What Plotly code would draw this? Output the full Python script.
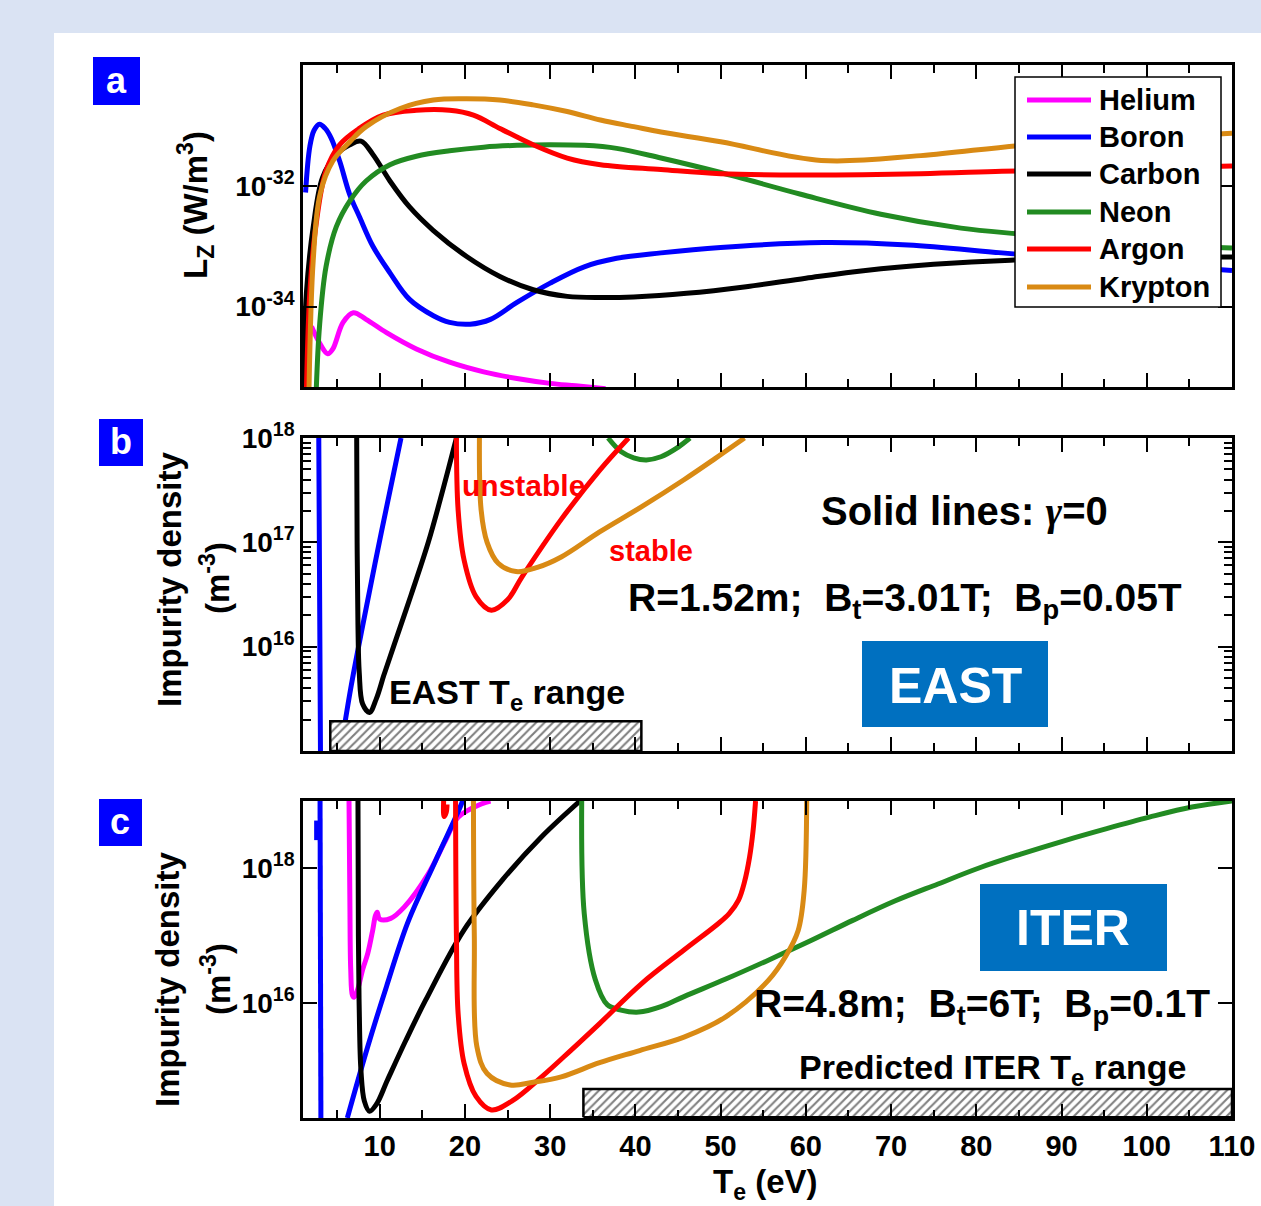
import plotly.graph_objects as go

W, H = 1261, 1206

# ---------------- data (T_e in eV, values as log10) ----------------
# Panel a: L_Z (W m^3), log10
helium_a_T = [2.0, 2.9, 3.9, 4.5, 5.7, 6.9, 8.4, 10.8, 14.3, 18.2, 22.2, 26.1, 30.0, 33.0, 36.5]
helium_a_lg = [-34.33, -34.59, -34.78, -34.7, -34.26, -34.1, -34.21, -34.43, -34.7, -34.92, -35.08, -35.19, -35.27, -35.31, -35.36]

boron_a_T = [1.3, 1.8, 2.3, 2.94, 3.6, 4.3, 5.3, 6.47, 7.65, 9.2, 11.2, 13.5, 16.3, 18.2, 20.6, 23.0, 26.1, 30.0, 34.0, 37.8, 43.0, 50, 62, 72, 83, 95, 110]
boron_a_lg = [-32.11, -31.35, -31.08, -30.98, -31.05, -31.21, -31.59, -32.14, -32.52, -33.0, -33.44, -33.88, -34.15, -34.26, -34.29, -34.21, -33.93, -33.61, -33.34, -33.2, -33.11, -33.02, -32.94, -32.98, -33.11, -33.25, -33.4]

carbon_a_T = [1.0, 1.4, 2.2, 3.3, 4.9, 6.5, 7.8, 9.2, 11.2, 13.5, 16.3, 20.2, 24.1, 28.0, 32.0, 35.9, 39.8, 46, 53, 60, 67, 75, 84, 96, 110]
carbon_a_lg = [-35.4, -33.77, -32.68, -31.86, -31.48, -31.32, -31.26, -31.48, -31.92, -32.35, -32.74, -33.17, -33.5, -33.72, -33.83, -33.85, -33.84, -33.78, -33.67, -33.53, -33.4, -33.3, -33.23, -33.19, -33.18]

neon_a_T = [2.55, 2.94, 3.7, 4.9, 6.5, 8.4, 11.2, 14.3, 18.2, 22.2, 26.1, 30.0, 34.0, 37.8, 43.0, 50, 59.4, 68.8, 78.2, 85.3, 95, 110]
neon_a_lg = [-35.4, -34.32, -33.34, -32.68, -32.25, -31.92, -31.65, -31.51, -31.42, -31.36, -31.33, -31.32, -31.33, -31.38, -31.54, -31.78, -32.14, -32.47, -32.7, -32.8, -32.92, -33.03]

argon_a_T = [1.4, 1.8, 2.5, 3.7, 5.3, 7.6, 10.4, 14.3, 18.2, 21.0, 24.1, 28.0, 32.0, 35.9, 43.0, 50, 59.4, 73.5, 83, 95, 110]
argon_a_lg = [-35.4, -33.77, -32.68, -31.75, -31.32, -31.05, -30.83, -30.75, -30.75, -30.83, -31.05, -31.32, -31.54, -31.65, -31.73, -31.8, -31.82, -31.8, -31.76, -31.72, -31.67]

krypton_a_T = [1.7, 2.2, 3.0, 4.5, 6.5, 8.4, 12.4, 16.3, 20.2, 24.1, 28.0, 32.0, 35.9, 39.8, 43.0, 50, 61.8, 73.5, 85.3, 98, 110]
krypton_a_lg = [-35.4, -33.23, -32.14, -31.59, -31.27, -31.02, -30.72, -30.58, -30.56, -30.58, -30.66, -30.77, -30.91, -31.02, -31.11, -31.27, -31.58, -31.5, -31.33, -31.22, -31.13]

# Panel b: EAST impurity density (m^-3), log10 ; None separates branches
boron_b_T = [2.85, 2.95, 3.05, None, 5.4, 6.6, 8.0, 10.2, 12.5]
boron_b_lg = [18.0, 16.5, 15.0, None, 15.0, 15.6, 16.2, 17.1, 18.0]

carbon_b_T = [7.3, 7.35, 7.45, 7.6, 8.0, 8.8, 9.6, 10.5, 11.7, 13.7, 15.7, 17.4, 19.0]
carbon_b_lg = [18.0, 17.0, 16.2, 15.75, 15.45, 15.37, 15.5, 15.73, 16.02, 16.5, 17.0, 17.5, 18.0]

neon_b_T = [36.8, 38.3, 39.8, 41.3, 43.0, 44.8, 46.4]
neon_b_lg = [18.0, 17.87, 17.81, 17.79, 17.82, 17.9, 18.0]

argon_b_T = [19.0, 19.2, 19.9, 21.3, 23.1, 25.0, 26.7, 31.3, 35.8, 39.2]
argon_b_lg = [18.0, 17.31, 16.83, 16.48, 16.35, 16.45, 16.67, 17.22, 17.69, 18.0]

krypton_b_T = [21.7, 21.9, 22.6, 23.9, 26.0, 28.5, 31.3, 35.8, 40.7, 45.7, 49.3, 52.8]
krypton_b_lg = [18.0, 17.31, 17.0, 16.8, 16.72, 16.76, 16.86, 17.1, 17.34, 17.6, 17.8, 18.0]

east_Te_range = [4.2, 40.7]
east_box_lg = [15.0, 15.285]

# Panel c: ITER impurity density (m^-3), log10
helium_c_T = [6.4, 6.5, 6.6, 6.8, 7.0, 7.4, 8.0, 8.6, 9.2, 9.5, 9.7, 10.0, 11.3, 12.9, 15.7, 17.7, 19.2, 22.0, 23.0]
helium_c_lg = [19.0, 17.5, 16.5, 16.12, 16.09, 16.2, 16.5, 16.74, 17.1, 17.3, 17.35, 17.25, 17.26, 17.43, 17.92, 18.41, 18.76, 18.96, 19.0]

boron_c_T = [3.0, 3.1, None, 2.6, 2.6, None, 6.2, 8.6, 10.8, 13.3, 16.5, 19.6, 19.8]
boron_c_lg = [19.0, 14.3, None, 18.71, 18.42, None, 14.3, 15.36, 16.25, 17.2, 18.1, 18.96, 19.05]

carbon_c_T = [7.45, 7.5, 7.6, 7.8, 8.2, 8.8, 9.6, 10.9, 13.1, 15.4, 19.9, 24.4, 29.0, 33.5]
carbon_c_lg = [19.0, 17.0, 15.9, 15.0, 14.55, 14.4, 14.5, 14.86, 15.46, 16.05, 17.09, 17.83, 18.47, 19.0]

neon_c_T = [33.7, 34.0, 35.3, 36.7, 38.3, 40.4, 43.0, 45.7, 50.6, 55.6, 60.6, 65.5, 70.5, 75.5, 80.4, 85.4, 90.3, 95.3, 100.3, 105.3, 110]
neon_c_lg = [19.0, 17.33, 16.35, 15.98, 15.9, 15.87, 15.95, 16.1, 16.36, 16.64, 16.93, 17.23, 17.52, 17.77, 18.01, 18.22, 18.41, 18.59, 18.76, 18.91, 19.0]

argon_c_T = [17.5, 17.55, 17.8, 17.9, None, 18.9, 19.0, 19.2, 19.9, 21.3, 23.1, 25.5, 29.0, 32.4, 35.8, 40.7, 45.7, 49.7, 51.0, 52.1, 52.8, 53.4, 53.8, 54.1]
argon_c_lg = [19.0, 18.77, 18.83, 18.95, None, 19.0, 17.0, 15.85, 15.11, 14.62, 14.42, 14.55, 14.91, 15.3, 15.7, 16.29, 16.79, 17.18, 17.33, 17.53, 17.8, 18.17, 18.55, 19.0]

krypton_c_T = [21.0, 21.1, 21.4, 22.6, 25.3, 28.0, 31.3, 35.8, 40.5, 45.7, 50.6, 55.6, 57.6, 59.1, 59.8, 60.1]
krypton_c_lg = [19.0, 17.0, 15.36, 14.96, 14.79, 14.83, 14.91, 15.12, 15.3, 15.5, 15.8, 16.34, 16.69, 17.08, 17.67, 19.0]

iter_Te_range = [33.9, 110.0]
iter_box_lg = [14.31, 14.73]

x_tick_vals = [10, 20, 30, 40, 50, 60, 70, 80, 90, 100, 110]
x_tick_text = ["10", "20", "30", "40", "50", "60", "70", "80", "90", "100", "110"]
x_minor_vals = [5, 15, 25, 35, 45, 55, 65, 75, 85, 95, 105]

species = ["Helium", "Boron", "Carbon", "Neon", "Argon", "Krypton"]
colors = {"Helium": "#ff00ff", "Boron": "#0000ff", "Carbon": "#000000",
          "Neon": "#228b22", "Argon": "#ff0000", "Krypton": "#d98a14"}

FONT = "Liberation Sans, Arial, sans-serif"


def px(x):
    return x / W


def py(y):
    return 1 - y / H


def pow10(vals):
    return [None if v is None else 10 ** v for v in vals]


fig = go.Figure()


def add_curve(T, lg, name, xa, ya):
    fig.add_trace(go.Scatter(
        x=T, y=pow10(lg), mode="lines", name=name, xaxis=xa, yaxis=ya,
        line=dict(color=colors[name], width=5, shape="spline", smoothing=1.0),
        connectgaps=False, showlegend=False, hoverinfo="skip"))


panel_a = {"Helium": (helium_a_T, helium_a_lg), "Boron": (boron_a_T, boron_a_lg),
           "Carbon": (carbon_a_T, carbon_a_lg), "Neon": (neon_a_T, neon_a_lg),
           "Argon": (argon_a_T, argon_a_lg), "Krypton": (krypton_a_T, krypton_a_lg)}
for nm, (t, l) in panel_a.items():
    add_curve(t, l, nm, "x", "y")

panel_b = {"Boron": (boron_b_T, boron_b_lg), "Carbon": (carbon_b_T, carbon_b_lg),
           "Neon": (neon_b_T, neon_b_lg), "Argon": (argon_b_T, argon_b_lg),
           "Krypton": (krypton_b_T, krypton_b_lg)}
for nm, (t, l) in panel_b.items():
    add_curve(t, l, nm, "x2", "y2")

panel_c = {"Helium": (helium_c_T, helium_c_lg), "Boron": (boron_c_T, boron_c_lg),
           "Carbon": (carbon_c_T, carbon_c_lg), "Neon": (neon_c_T, neon_c_lg),
           "Argon": (argon_c_T, argon_c_lg), "Krypton": (krypton_c_T, krypton_c_lg)}
for nm, (t, l) in panel_c.items():
    add_curve(t, l, nm, "x3", "y3")


def hatch_box(trange, lrange, xa, ya):
    x0, x1 = trange
    y0, y1 = 10 ** lrange[0], 10 ** lrange[1]
    fig.add_trace(go.Scatter(
        x=[x0, x1, x1, x0, x0], y=[y0, y0, y1, y1, y0], xaxis=xa, yaxis=ya,
        mode="lines", fill="toself", fillcolor="white",
        fillpattern=dict(shape="/", fgcolor="black", bgcolor="white", size=6, solidity=0.35),
        line=dict(color="black", width=2.5), showlegend=False, hoverinfo="skip"))


hatch_box(east_Te_range, east_box_lg, "x2", "y2")
hatch_box(iter_Te_range, iter_box_lg, "x3", "y3")

# ---------------- axes ----------------
xdom = [px(303), px(1232)]
tickfont = dict(family=FONT, size=29, color="black", weight="bold")


def xaxis(anchor, labels):
    return dict(domain=xdom, range=[1, 110], anchor=anchor, showgrid=False, zeroline=False,
                showline=True, linewidth=2.5, linecolor="black", mirror="allticks",
                ticks="inside", ticklen=14, tickwidth=2, tickcolor="black",
                tickmode="array", tickvals=x_tick_vals, ticktext=x_tick_text,
                showticklabels=labels, tickfont=tickfont,
                minor=dict(ticks="inside", ticklen=8, tickwidth=2, tickcolor="black",
                           tickmode="array", tickvals=x_minor_vals, showgrid=False))


def yaxis(anchor, top, bottom, rng, tv, tt, minor_vals=None):
    d = dict(domain=[py(bottom), py(top)], type="log", range=rng, anchor=anchor,
             showgrid=False, zeroline=False, showline=True, linewidth=2.5, linecolor="black",
             mirror="allticks", ticks="inside", ticklen=14, tickwidth=2, tickcolor="black",
             tickmode="array", tickvals=tv, ticktext=tt,
             tickfont=dict(family=FONT, size=28, color="black", weight="bold"))
    if minor_vals:
        d["minor"] = dict(ticks="inside", ticklen=8, tickwidth=1.5, tickcolor="black",
                          tickmode="array", tickvals=minor_vals, showgrid=False)
    return d


b_minor = [m * 10 ** e for e in (15, 16, 17) for m in range(2, 10)]

fig.update_layout(
    xaxis=xaxis("y", False),
    xaxis2=xaxis("y2", False),
    xaxis3=xaxis("y3", True),
    yaxis=yaxis("x", 65, 387, [-35.33, -30.0], [1e-32, 1e-34], ["10<sup>-32</sup>", "10<sup>-34</sup>"]),
    yaxis2=yaxis("x2", 438, 751, [15.0, 18.0], [1e16, 1e17, 1e18],
                 ["10<sup>16</sup>", "10<sup>17</sup>", "10<sup>18</sup>"], b_minor),
    yaxis3=yaxis("x3", 801, 1118, [14.3, 19.0], [1e16, 1e18], ["10<sup>16</sup>", "10<sup>18</sup>"]),
)

# ---------------- shapes ----------------
shapes = [
    dict(type="rect", xref="paper", yref="paper", x0=px(54), x1=1, y0=0, y1=py(33),
         fillcolor="white", line=dict(width=0), layer="below"),
]
for (x0, y0, x1, y1) in [(93, 57, 140, 105), (99, 419, 143, 466), (99, 799, 142, 846)]:
    shapes.append(dict(type="rect", xref="paper", yref="paper", x0=px(x0), x1=px(x1), y0=py(y1), y1=py(y0),
                       fillcolor="#0000ff", line=dict(width=0)))
for (x0, y0, x1, y1) in [(862, 641, 1048, 727), (980, 884, 1167, 971)]:
    shapes.append(dict(type="rect", xref="paper", yref="paper", x0=px(x0), x1=px(x1), y0=py(y1), y1=py(y0),
                       fillcolor="#0070c0", line=dict(width=0)))
# legend box
shapes.append(dict(type="rect", xref="paper", yref="paper", x0=px(1015), x1=px(1221), y0=py(307), y1=py(77),
                   fillcolor="white", line=dict(color="black", width=1.5)))
leg_y = [100, 137, 174, 212, 249, 287]
for nm, yy in zip(species, leg_y):
    shapes.append(dict(type="line", xref="paper", yref="paper", x0=px(1027), x1=px(1091), y0=py(yy), y1=py(yy),
                       line=dict(color=colors[nm], width=5)))

# ---------------- annotations ----------------
ann = []


def text(x, y, s, size, color="black", xanchor="center", angle=0, yanchor="middle"):
    ann.append(dict(xref="paper", yref="paper", x=px(x), y=py(y), text=s, showarrow=False,
                    xanchor=xanchor, yanchor=yanchor, textangle=angle,
                    font=dict(family=FONT, size=size, color=color, weight="bold")))


for nm, yy in zip(species, leg_y):
    text(1097, yy, nm, 29, xanchor="left")

text(116.5, 80, "a", 36, "white")
text(121, 441, "b", 36, "white")
text(120.5, 821, "c", 36, "white")

text(195, 205, "L<sub>Z</sub> (W/m<sup>3</sup>)", 33, angle=-90)
text(169, 579, "Impurity density", 33, angle=-90)
text(215, 578, "(m<sup>-3</sup>)", 33, angle=-90)
text(167, 979, "Impurity density", 33, angle=-90)
text(216, 979, "(m<sup>-3</sup>)", 33, angle=-90)

text(523, 485, "unstable", 30, "#ff0000")
text(651, 551, "stable", 29, "#ff0000")
text(965, 511, "Solid lines: <i><span style=\"font-family:'Liberation Serif'\">γ</span></i>=0", 40)
text(905, 600, "R=1.52m;\u00a0 B<sub>t</sub>=3.01T;\u00a0 B<sub>p</sub>=0.05T", 39)
text(955, 686, "EAST", 50, "white")
text(507, 694, "EAST T<sub>e</sub> range", 34)

text(1073, 928, "ITER", 50, "white")
text(982, 1006, "R=4.8m;\u00a0 B<sub>t</sub>=6T;\u00a0 B<sub>p</sub>=0.1T", 39)
text(992, 1069, "Predicted ITER T<sub>e</sub> range", 34)
text(766, 1161, "T<sub>e</sub> (eV)", 33, yanchor="top")

fig.update_layout(
    width=W, height=H, margin=dict(l=0, r=0, t=0, b=0, autoexpand=False),
    paper_bgcolor="#dae3f3", plot_bgcolor="white",
    shapes=shapes, annotations=ann, showlegend=False,
    font=dict(family=FONT),
)

fig.write_html("out.html")
